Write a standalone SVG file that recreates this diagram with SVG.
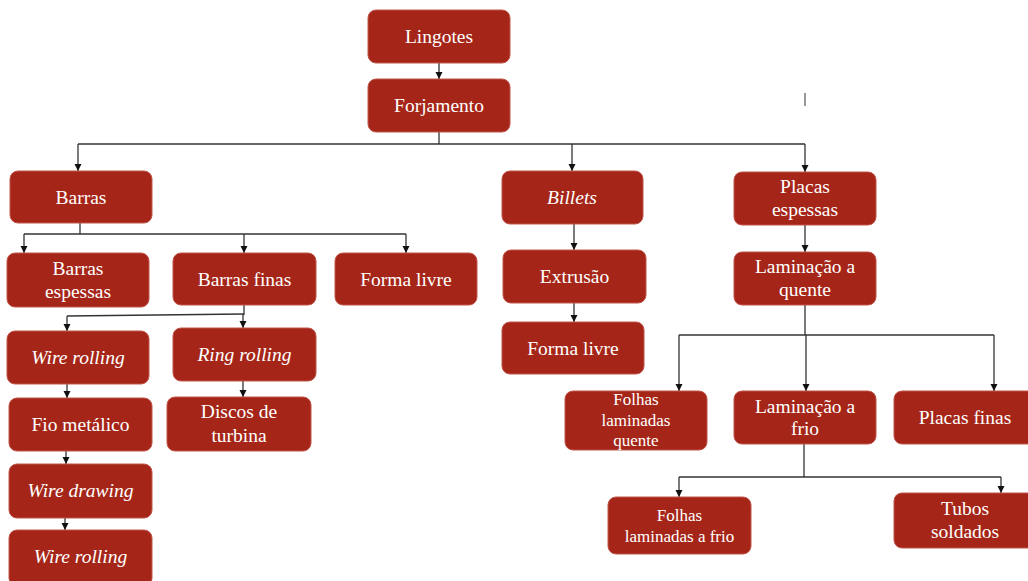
<svg xmlns="http://www.w3.org/2000/svg" width="1028" height="581" viewBox="0 0 1028 581">
  <defs>
    <marker id="arr" markerWidth="8" markerHeight="8" refX="7" refY="4" orient="auto" markerUnits="userSpaceOnUse">
      <path d="M0,0.5 L7,4 L0,7.5 Z" fill="#111"/>
    </marker>
  </defs>
  <style>
    .box { fill: #A52618; stroke: #C0554B; stroke-width: 1; }
    .t { font-family: "Liberation Serif", "Times New Roman", serif; font-size: 19.5px; fill: #ffffff; text-anchor: middle; }
    .s { font-size: 17px; }
    .i { font-style: italic; }
    .c line, .c polyline { stroke: #333; stroke-width: 1.3; fill: none; }
    .c .a { marker-end: url(#arr); }
  </style>
  <rect width="1028" height="581" fill="#ffffff"/>

  <!-- connectors -->
  <g id="connectors" class="c">
    <line class="a" x1="439" y1="63" x2="439" y2="79"/>
    <line x1="439" y1="132" x2="439" y2="144"/>
    <line x1="78" y1="144" x2="805" y2="144"/>
    <line class="a" x1="78" y1="144" x2="78" y2="171"/>
    <line class="a" x1="572" y1="144" x2="572" y2="171"/>
    <line class="a" x1="805" y1="144" x2="805" y2="172"/>

    <line x1="80" y1="223" x2="80" y2="234"/>
    <line x1="24" y1="234" x2="406" y2="234"/>
    <line class="a" x1="24" y1="234" x2="24" y2="253"/>
    <line class="a" x1="244" y1="234" x2="244" y2="253"/>
    <line class="a" x1="406" y1="234" x2="406" y2="253"/>

    <line x1="244" y1="305" x2="244" y2="315"/>
    <line x1="67" y1="316" x2="244" y2="314"/>
    <line class="a" x1="67" y1="316" x2="67" y2="331"/>
    <line class="a" x1="243" y1="314" x2="243" y2="328"/>
    <line class="a" x1="67" y1="384" x2="67" y2="398"/>
    <line class="a" x1="243" y1="381" x2="243" y2="397"/>
    <line class="a" x1="66" y1="451" x2="66" y2="464"/>
    <line class="a" x1="65" y1="518" x2="65" y2="530"/>

    <line class="a" x1="574" y1="224" x2="574" y2="250"/>
    <line class="a" x1="574" y1="303" x2="574" y2="322"/>

    <line class="a" x1="805" y1="225" x2="805" y2="252"/>
    <line x1="805" y1="305" x2="805" y2="335"/>
    <line x1="679" y1="335" x2="994" y2="335"/>
    <line class="a" x1="679" y1="335" x2="679" y2="391"/>
    <line class="a" x1="806" y1="335" x2="806" y2="391"/>
    <line class="a" x1="994" y1="335" x2="994" y2="391"/>

    <line x1="804" y1="444" x2="804" y2="477"/>
    <line x1="679" y1="477" x2="1001" y2="477"/>
    <line class="a" x1="679" y1="477" x2="679" y2="497"/>
    <line class="a" x1="1001" y1="477" x2="1001" y2="493"/>

    <line x1="805" y1="93" x2="805" y2="106" style="stroke:#777;stroke-width:1.5"/>
  </g>

  <g id="lingotes"><rect class="box" x="368" y="10" width="142" height="53" rx="8"/><text class="t" x="439" y="43">Lingotes</text></g>
  <g id="forjamento"><rect class="box" x="368" y="79" width="142" height="53" rx="8"/><text class="t" x="439" y="112">Forjamento</text></g>

  <g id="barras"><rect class="box" x="10" y="171" width="142" height="52" rx="8"/><text class="t" x="81" y="203.5">Barras</text></g>
  <g id="billets"><rect class="box" x="502" y="171" width="141" height="53" rx="8"/><text class="t i" x="572" y="204">Billets</text></g>
  <g id="placas-espessas"><rect class="box" x="734" y="172" width="142" height="53" rx="8"/><text class="t" x="805" y="193">Placas</text><text class="t" x="805" y="216">espessas</text></g>

  <g id="barras-espessas"><rect class="box" x="7" y="253" width="142" height="54" rx="8"/><text class="t" x="78" y="275">Barras</text><text class="t" x="78" y="298">espessas</text></g>
  <g id="barras-finas"><rect class="box" x="173" y="253" width="143" height="52" rx="8"/><text class="t" x="244.5" y="285.5">Barras finas</text></g>
  <g id="forma-livre-1"><rect class="box" x="335" y="253" width="142" height="52" rx="8"/><text class="t" x="406" y="285.5">Forma livre</text></g>

  <g id="extrusao"><rect class="box" x="503" y="250" width="143" height="53" rx="8"/><text class="t" x="574.5" y="283">Extrusão</text></g>
  <g id="forma-livre-2"><rect class="box" x="502" y="322" width="142" height="52" rx="8"/><text class="t" x="573" y="354.5">Forma livre</text></g>

  <g id="laminacao-quente"><rect class="box" x="734" y="252" width="142" height="53" rx="8"/><text class="t" x="805" y="273">Laminação a</text><text class="t" x="805" y="296">quente</text></g>

  <g id="wire-rolling-1"><rect class="box" x="7" y="331" width="142" height="53" rx="8"/><text class="t i" x="78" y="363.5">Wire rolling</text></g>
  <g id="ring-rolling"><rect class="box" x="173" y="328" width="143" height="53" rx="8"/><text class="t i" x="244.5" y="360.5">Ring rolling</text></g>
  <g id="fio-metalico"><rect class="box" x="9" y="398" width="143" height="53" rx="8"/><text class="t" x="80.5" y="430.5">Fio metálico</text></g>
  <g id="discos-turbina"><rect class="box" x="167" y="397" width="144" height="54" rx="8"/><text class="t" x="239" y="418">Discos de</text><text class="t" x="239" y="442">turbina</text></g>
  <g id="wire-drawing"><rect class="box" x="9" y="464" width="143" height="54" rx="8"/><text class="t i" x="80.5" y="497">Wire drawing</text></g>
  <g id="wire-rolling-2"><rect class="box" x="9" y="530" width="143" height="56" rx="8"/><text class="t i" x="80.5" y="563">Wire rolling</text></g>

  <g id="folhas-quente"><rect class="box" x="565" y="391" width="142" height="59" rx="8"/><text class="t s" x="636" y="405">Folhas</text><text class="t s" x="636" y="425.5">laminadas</text><text class="t s" x="636" y="446">quente</text></g>
  <g id="laminacao-frio"><rect class="box" x="734" y="391" width="142" height="53" rx="8"/><text class="t" x="805" y="413">Laminação a</text><text class="t" x="805" y="435">frio</text></g>
  <g id="placas-finas"><rect class="box" x="894" y="391" width="142" height="53" rx="8"/><text class="t" x="965" y="424">Placas finas</text></g>

  <g id="folhas-frio"><rect class="box" x="608" y="497" width="143" height="57" rx="8"/><text class="t s" x="679.5" y="521">Folhas</text><text class="t s" x="679.5" y="542">laminadas a frio</text></g>
  <g id="tubos-soldados"><rect class="box" x="894" y="493" width="142" height="55" rx="8"/><text class="t" x="965" y="515">Tubos</text><text class="t" x="965" y="538">soldados</text></g>
</svg>
